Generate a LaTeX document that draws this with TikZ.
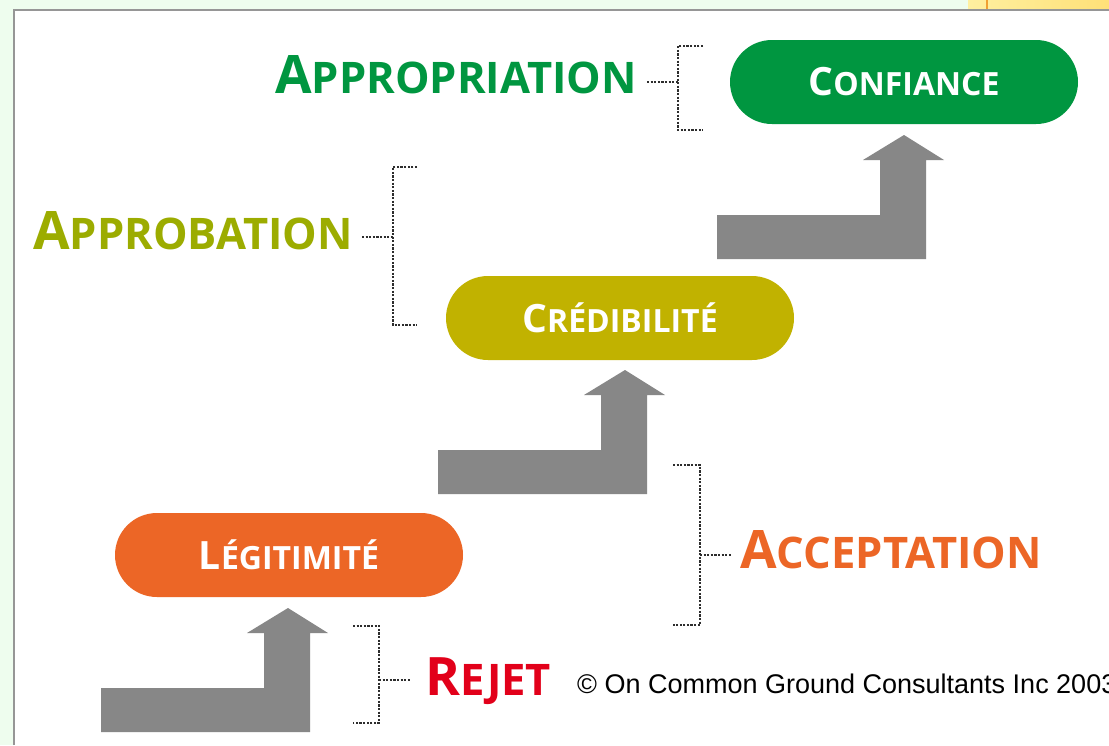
\documentclass[tikz,border=0pt]{standalone}
\usepackage{fontspec}
\setmainfont{Open Sans}
\newfontfamily\copyfont{Liberation Sans}
\usetikzlibrary{positioning}

\definecolor{confgreen}{RGB}{0,150,64}
\definecolor{credolive}{RGB}{193,178,0}
\definecolor{approbolive}{RGB}{156,172,0}
\definecolor{legorange}{RGB}{236,102,38}
\definecolor{rejetred}{RGB}{226,0,26}
\definecolor{arrowgray}{RGB}{135,135,135}
\definecolor{dotgray}{RGB}{45,45,45}
\definecolor{pagegreen}{RGB}{238,253,238}
\definecolor{framegray}{RGB}{150,150,150}
\definecolor{tabyellow}{RGB}{255,240,160}
\definecolor{tabyellowdark}{RGB}{255,224,120}
\definecolor{taborange}{RGB}{240,160,50}

% fake small caps: first letter big, the rest smaller
\newcommand\labelsc[2]{{\fontsize{53}{53}\selectfont#1}{\fontsize{43.5}{43.5}\selectfont#2}}
\newcommand\pillsc[2]{{\fontsize{39}{39}\selectfont#1}{\fontsize{32}{32}\selectfont#2}}

\begin{document}
\begin{tikzpicture}[x=1pt, y=-1pt,
    pill/.style={rounded corners=42, minimum width=348, minimum height=84,
      inner sep=0, text=white, font=\bfseries},
    stagelabel/.style={anchor=base west, inner sep=0, font=\bfseries},
    dotline/.style={draw=dotgray, line width=2.6, dash pattern=on 2.2pt off 1.4pt},
    uparrow/.pic={\fill[arrowgray] (0,0) -- (0,-44) -- (163,-44) -- (163,-99)
      -- (146,-99) -- (187,-124) -- (227,-99) -- (209,-99) -- (209,0) -- cycle;}]
    \useasboundingbox (0,0) rectangle (1109,745);
    % window background
    \fill[pagegreen] (0,0) rectangle (1109,745);
    \shade[left color=tabyellow, right color=tabyellowdark] (968,0) rectangle (1109,9);
    \fill[taborange] (986,0) rectangle (988,9);
    \fill[white] (14,10) rectangle (1109,745);
    \draw[framegray, line width=1.5] (14,745) -- (14,10) -- (1109,10);

    % stages
    \node[pill, fill=confgreen] (confiance) at (904,82) {\pillsc{C}{ONFIANCE}};
    \node[pill, fill=credolive] (credibilite) at (620,318) {\pillsc{C}{RÉDIBILITÉ}};
    \node[pill, fill=legorange] (legitimite) at (289,555) {\pillsc{L}{ÉGITIMITÉ}};

    % steps up
    \pic (toLegitimite) at (101,732) {uparrow};
    \pic (toCredibilite) at (438,494) {uparrow};
    \pic (toConfiance) at (717,259) {uparrow};

    % labels
    \node[stagelabel, text=confgreen] (appropriation) at (275,93) {\labelsc{A}{PPROPRIATION}};
    \node[stagelabel, text=approbolive] (approbation) at (33,249) {\labelsc{A}{PPROBATION}};
    \node[stagelabel, text=legorange] (acceptation) at (740,568) {\labelsc{A}{CCEPTATION}};
    \node[stagelabel, text=rejetred] (rejet) at (425,695) {\labelsc{R}{EJET}};

    % brackets
    \coordinate (brAppropriation) at (678,82);
    \coordinate (endAppropriation) at (647,82);
    \draw[dotline] (703,46) -- (678,46) -- (678,130) -- (703,130);
    \draw[dotline] (endAppropriation) -- (brAppropriation);

    \coordinate (brApprobation) at (393,237);
    \coordinate (endApprobation) at (362,237);
    \draw[dotline] (417,167) -- (393,167) -- (393,325) -- (417,325);
    \draw[dotline] (endApprobation) -- (brApprobation);

    \coordinate (brAcceptation) at (700,555);
    \coordinate (endAcceptation) at (731,555);
    \draw[dotline] (673,465) -- (700,465) -- (700,625) -- (673,625);
    \draw[dotline] (brAcceptation) -- (endAcceptation);

    \coordinate (brRejet) at (379,680);
    \coordinate (endRejet) at (410,680);
    \draw[dotline] (353,626) -- (379,626) -- (379,723) -- (353,723);
    \draw[dotline] (brRejet) -- (endRejet);

    \node[anchor=base west, inner sep=0, font=\copyfont\fontsize{27}{27}\selectfont]
      (copyright) at (577,693) {© On Common Ground Consultants Inc 2003};
\end{tikzpicture}
\end{document}
